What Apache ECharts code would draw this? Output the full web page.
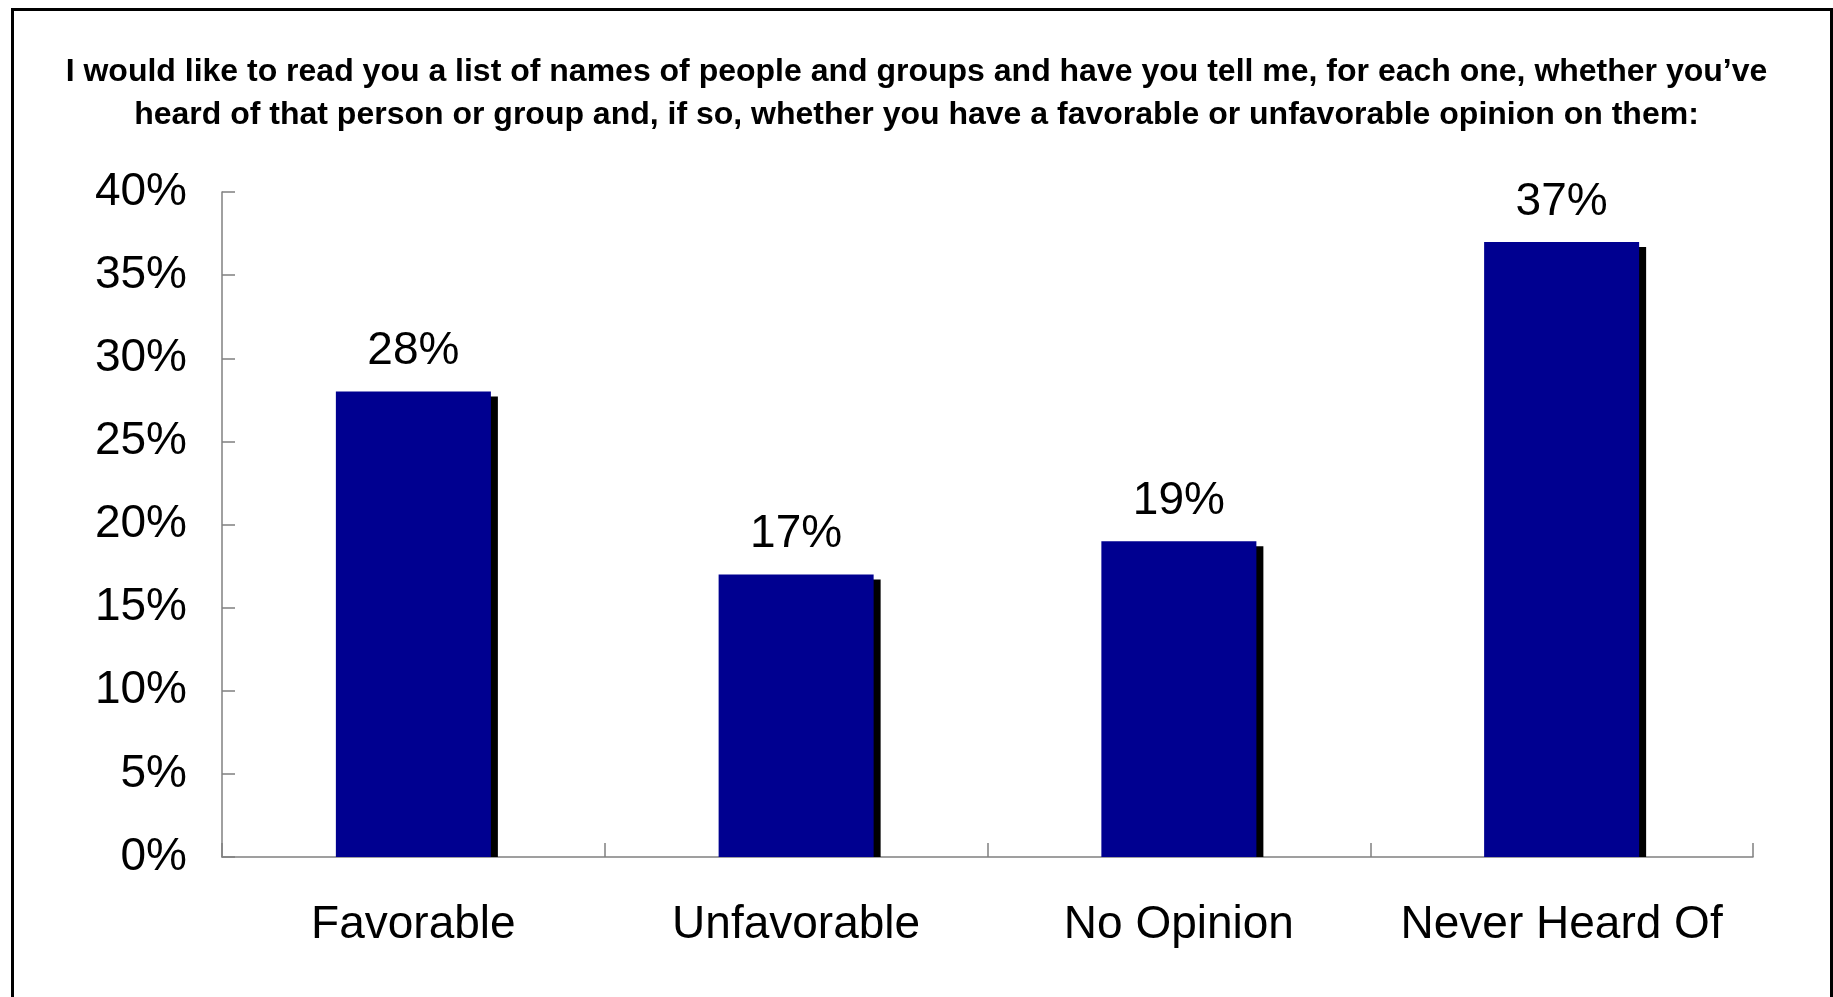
<!DOCTYPE html>
<html>
<head>
<meta charset="utf-8">
<script src="https://cdn.jsdelivr.net/npm/echarts@6/dist/echarts.min.js"></script>
<style>
  html, body { margin: 0; padding: 0; background: #fff; }
  #barChart { width: 1833px; height: 997px; }
</style>
</head>
<body>
<div id="barChart"></div>
<script>
  var titleLines = [
    "I would like to read you a list of names of people and groups and have you tell me, for each one, whether you\u2019ve",
    "heard of that person or group and, if so, whether you have a favorable or unfavorable opinion on them:"
  ]
  var categories = ["Favorable", "Unfavorable", "No Opinion", "Never Heard Of"]
  var values = [28, 17, 19, 37]
  var yMin = 0
  var yMax = 40
  var yStep = 5

  var shadowData = values.map(function (v, i) { return [i, v] })

  var graphics = [{
    // outer frame
    "type": "rect",
    "left": 10,
    "top": 7,
    "silent": true,
    "shape": { "width": 1819, "height": 1010 },
    "style": { "fill": "none", "stroke": "#000", "lineWidth": 3 }
  }]
  titleLines.forEach(function (line, i) {
    graphics.push({
      "type": "text",
      "left": "center",
      "top": 56 + i * 43,
      "silent": true,
      "style": {
        "text": line,
        "fill": "#000",
        "font": "bold 32px 'Liberation Sans', Arial, sans-serif"
      }
    })
  })

  var barChart = echarts.init(document.getElementById('barChart'))
  var barChartOption = {
    "backgroundColor": "#fff",
    "animation": false,
    "textStyle": {
      "fontFamily": "Liberation Sans, Arial, sans-serif"
    },
    "graphic": graphics,
    "grid": {
      "left": 222,
      "right": 80,
      "top": 192,
      "bottom": 140,
      "containLabel": false
    },
    "xAxis": {
      "type": "category",
      "data": categories,
      "axisLine": { "show": true, "lineStyle": { "color": "#808080", "width": 1.5 } },
      "axisTick": { "show": true, "inside": true, "length": 14, "lineStyle": { "color": "#808080", "width": 1.5 } },
      "axisLabel": {
        "color": "#000",
        "fontSize": 46,
        "margin": 45,
        "interval": 0
      },
      "splitLine": { "show": false }
    },
    "yAxis": {
      "type": "value",
      "min": yMin,
      "max": yMax,
      "interval": yStep,
      "axisLine": { "show": true, "lineStyle": { "color": "#808080", "width": 1.5 } },
      "axisTick": { "show": true, "inside": true, "length": 13, "lineStyle": { "color": "#808080", "width": 1.5 } },
      "axisLabel": {
        "color": "#000",
        "fontSize": 46,
        "margin": 35,
        "formatter": "{value}%"
      },
      "splitLine": { "show": false }
    },
    "series": [
      {
        // drop shadow behind each bar, stops at the axis
        "type": "custom",
        "z": 1,
        "silent": true,
        "data": shadowData,
        "encode": { "x": 0, "y": 1 },
        "renderItem": function (params, api) {
          var top = api.coord([api.value(0), api.value(1)])
          var base = api.coord([api.value(0), 0])
          var w = api.size([1, 0])[0] * 0.405
          return {
            "type": "rect",
            "shape": { "x": top[0] - w / 2 + 7, "y": top[1] + 5, "width": w, "height": base[1] - top[1] - 5 },
            "style": { "fill": "#000" }
          }
        }
      },
      {
        "type": "bar",
        "z": 2,
        "data": values,
        "barWidth": "40.5%",
        "itemStyle": { "color": "#000090" },
        "label": {
          "show": true,
          "position": "top",
          "distance": 17,
          "color": "#000",
          "fontSize": 46,
          "formatter": "{c}%"
        }
      }
    ]
  }
  barChart.setOption(barChartOption)
</script>
</body>
</html>
